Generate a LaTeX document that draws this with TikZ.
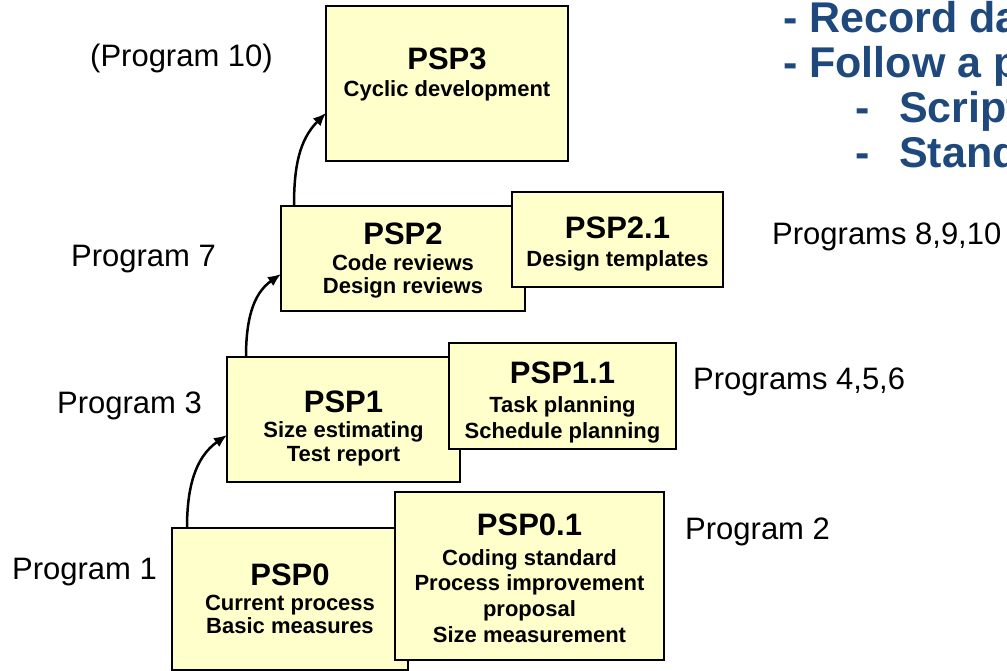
\documentclass[tikz,border=0pt]{standalone}
\usepackage{fontspec}
\setmainfont{Liberation Sans}
\usetikzlibrary{arrows.meta}
\definecolor{boxfill}{HTML}{FFFFCC}
\definecolor{headblue}{HTML}{1F497D}
\begin{document}
\begin{tikzpicture}[x=1pt,y=1pt,
  psbox/.style={draw=black, line width=2pt, fill=boxfill, rectangle, inner sep=0pt, outer sep=0pt, anchor=north west},
  ttl/.style={anchor=base, inner sep=0pt, font=\fontsize{31}{31}\selectfont\bfseries},
  bdy/.style={anchor=base, inner sep=0pt, font=\fontsize{22}{22}\selectfont\bfseries},
  lbl/.style={anchor=base west, inner sep=0pt, font=\fontsize{31}{31}\selectfont},
  head/.style={anchor=base west, inner sep=0pt, text=headblue, font=\fontsize{43}{43}\selectfont\bfseries},
  flow/.style={line width=2.5pt, -{Latex[length=13pt,width=11pt]}}
]
\useasboundingbox (0,0) rectangle (1007,-671);

% headline text (top right, cut by the page edge as in the reference)
\node[head] (h1) at (783,-33) {- Record da};
\node[head] (h2) at (783,-78) {- Follow a p};
\node[head] (h3d) at (855,-123) {-};
\node[head] (h3) at (899,-123) {Script};
\node[head] (h4d) at (855,-168) {-};
\node[head] (h4) at (899,-168) {Stand};

% PSP3
\node[psbox, minimum width=242pt, minimum height=155pt] (psp3) at (326,-6) {};
\node[ttl] (t3) at (447,-70) {PSP3};
\node[bdy] (b3) at (447,-97) {Cyclic development};

% PSP2 and PSP2.1
\node[psbox, minimum width=244pt, minimum height=105pt] (psp2) at (281,-206) {};
\node[ttl] (t2) at (403,-244) {PSP2};
\node[bdy] (b2a) at (403,-270) {Code reviews};
\node[bdy] (b2b) at (403,-294) {Design reviews};
\node[psbox, minimum width=211pt, minimum height=95pt] (psp21) at (512,-192) {};
\node[ttl] (t21) at (617.5,-239) {PSP2.1};
\node[bdy] (b21) at (617.5,-267) {Design templates};

% PSP1 and PSP1.1
\node[psbox, minimum width=233pt, minimum height=125pt] (psp1) at (227,-357) {};
\node[ttl] (t1) at (343.5,-412) {PSP1};
\node[bdy] (b1a) at (343.5,-437) {Size estimating};
\node[bdy] (b1b) at (343.5,-461) {Test report};
\node[psbox, minimum width=227pt, minimum height=106pt] (psp11) at (449,-343) {};
\node[ttl] (t11) at (562.5,-383) {PSP1.1};
\node[bdy] (b11a) at (562.5,-412) {Task planning};
\node[bdy] (b11b) at (562.5,-438) {Schedule planning};

% PSP0 and PSP0.1
\node[psbox, minimum width=236pt, minimum height=142pt] (psp0) at (172,-528) {};
\node[ttl] (t0) at (290,-585) {PSP0};
\node[bdy] (b0a) at (290,-610) {Current process};
\node[bdy] (b0b) at (290,-633) {Basic measures};
\node[psbox, minimum width=269pt, minimum height=168pt] (psp01) at (395,-492) {};
\node[ttl] (t01) at (529.5,-535) {PSP0.1};
\node[bdy] (b01a) at (529.5,-565) {Coding standard};
\node[bdy] (b01b) at (529.5,-590) {Process improvement};
\node[bdy] (b01c) at (529.5,-616) {proposal};
\node[bdy] (b01d) at (529.5,-642) {Size measurement};

% program labels
\node[lbl] (l10) at (90,-67) {(Program 10)};
\node[lbl] (l7) at (71,-267) {Program 7};
\node[lbl] (l3) at (57,-413) {Program 3};
\node[lbl] (l1) at (12,-579) {Program 1};
\node[lbl] (l2) at (685,-539) {Program 2};
\node[lbl] (l456) at (693,-389) {Programs 4,5,6};
\node[lbl] (l8910) at (772,-244) {Programs 8,9,10};

% connectors
\draw[flow] ([xshift=15pt]psp0.north west) to[out=90,in=215] ([yshift=-15.5pt]psp1.west);
\draw[flow] ([xshift=19pt]psp1.north west) to[out=90,in=215] ([yshift=-15.5pt]psp2.west);
\draw[flow] ([xshift=13pt]psp2.north west) to[out=90,in=225] ([yshift=-29.5pt]psp3.west);
\end{tikzpicture}
\end{document}
